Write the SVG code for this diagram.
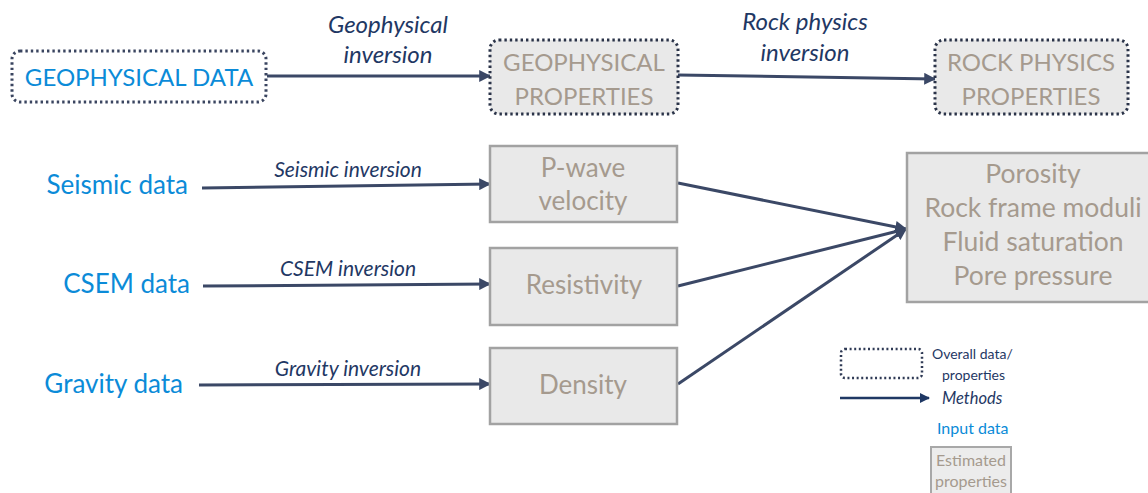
<svg xmlns="http://www.w3.org/2000/svg" width="1148" height="493" viewBox="0 0 1148 493">
  <defs>
    <style>
      text { font-family: Lato, "Open Sans", "Liberation Sans", sans-serif; }
      .dotted { fill: #e9e9e9; stroke: #2a3348; stroke-width: 3; stroke-dasharray: 2.4 3; }
      .dotted-open { fill: #ffffff; stroke: #3a4560; stroke-width: 3; stroke-dasharray: 2.4 3; }
      .prop { fill: #e9e9e9; stroke: #a2a2a2; stroke-width: 2.5; }
      .input { fill: #0b8bd8; }
      .est { fill: #a59a8e; }
      .method { fill: #1f3864; font-style: italic; }
      .conn { stroke: #3b4866; stroke-width: 3; fill: none; marker-end: url(#arrow); }
    </style>
    <marker id="arrow" viewBox="0 0 10 10" refX="9" refY="5" markerWidth="4" markerHeight="4" orient="auto" markerUnits="strokeWidth">
      <path d="M0,0 L10,5 L0,10 z" fill="#3b4866"/>
    </marker>
    <marker id="arrowLegend" viewBox="0 0 10 10" refX="9" refY="5" markerWidth="4" markerHeight="4" orient="auto" markerUnits="strokeWidth">
      <path d="M0,0 L10,5 L0,10 z" fill="#1f3864"/>
    </marker>
  </defs>

  <rect width="1148" height="493" fill="#ffffff"/>

  <!-- connectors -->
  <g id="connectors">
    <line class="conn" x1="267" y1="76" x2="490" y2="76"/>
    <line class="conn" x1="678" y1="75" x2="935" y2="79"/>
    <line class="conn" x1="202" y1="188" x2="490" y2="184"/>
    <line class="conn" x1="203" y1="286" x2="490" y2="284"/>
    <line class="conn" x1="199" y1="385" x2="490" y2="384"/>
    <line class="conn" x1="678" y1="183" x2="906" y2="229"/>
    <line class="conn" x1="678" y1="286" x2="906" y2="229"/>
    <line class="conn" x1="678" y1="384" x2="906" y2="229"/>
  </g>

  <!-- connector labels -->
  <g id="connector-labels" class="method" text-anchor="middle">
    <text x="388" y="33" font-size="24">Geophysical</text>
    <text x="388" y="63" font-size="24">inversion</text>
    <text x="805" y="30" font-size="24">Rock physics</text>
    <text x="805" y="61" font-size="24">inversion</text>
    <text x="348" y="177" font-size="21">Seismic inversion</text>
    <text x="348" y="276" font-size="21">CSEM inversion</text>
    <text x="348" y="376" font-size="21">Gravity inversion</text>
  </g>

  <!-- overall data / properties -->
  <g id="geophysical-data">
    <rect class="dotted-open" x="12" y="51" width="254" height="51" rx="8"/>
    <text class="input" x="139" y="86" font-size="24" text-anchor="middle">GEOPHYSICAL DATA</text>
  </g>
  <g id="geophysical-properties">
    <rect class="dotted" x="490" y="40" width="188" height="74" rx="9"/>
    <text class="est" x="584" y="71" font-size="24" text-anchor="middle">GEOPHYSICAL</text>
    <text class="est" x="584" y="105" font-size="24" text-anchor="middle">PROPERTIES</text>
  </g>
  <g id="rock-physics-properties">
    <rect class="dotted" x="935" y="40" width="193" height="74" rx="9"/>
    <text class="est" x="1031" y="71" font-size="24" text-anchor="middle">ROCK PHYSICS</text>
    <text class="est" x="1031" y="105" font-size="24" text-anchor="middle">PROPERTIES</text>
  </g>

  <!-- input data -->
  <g id="seismic-data">
    <text class="input" x="188" y="194" font-size="26" text-anchor="end">Seismic data</text>
  </g>
  <g id="csem-data">
    <text class="input" x="190" y="293" font-size="26" text-anchor="end">CSEM data</text>
  </g>
  <g id="gravity-data">
    <text class="input" x="183" y="393" font-size="26" text-anchor="end">Gravity data</text>
  </g>

  <!-- geophysical properties -->
  <g id="p-wave-velocity">
    <rect class="prop" x="490" y="146" width="187" height="76"/>
    <text class="est" x="583" y="177" font-size="26" text-anchor="middle">P-wave</text>
    <text class="est" x="583" y="210" font-size="26" text-anchor="middle">velocity</text>
  </g>
  <g id="resistivity">
    <rect class="prop" x="490" y="248" width="187" height="77"/>
    <text class="est" x="584" y="294" font-size="26" text-anchor="middle">Resistivity</text>
  </g>
  <g id="density">
    <rect class="prop" x="490" y="348" width="187" height="76"/>
    <text class="est" x="583" y="394" font-size="26" text-anchor="middle">Density</text>
  </g>

  <!-- rock physics properties -->
  <g id="rock-properties">
    <rect class="prop" x="907" y="153" width="245" height="149"/>
    <text class="est" x="1033" y="183" font-size="26.5" text-anchor="middle">Porosity</text>
    <text class="est" x="1033" y="217" font-size="26.5" text-anchor="middle">Rock frame moduli</text>
    <text class="est" x="1033" y="251" font-size="26.5" text-anchor="middle">Fluid saturation</text>
    <text class="est" x="1033" y="285" font-size="26.5" text-anchor="middle">Pore pressure</text>
  </g>

  <!-- legend -->
  <g id="legend">
    <rect x="841" y="349" width="81" height="29" rx="4" fill="none" stroke="#2f3a55" stroke-width="2.5" stroke-dasharray="2 2.6"/>
    <text x="932" y="359" font-size="14" fill="#1f3864">Overall data/</text>
    <text x="942" y="380" font-size="14" fill="#1f3864">properties</text>
    <line x1="840" y1="398" x2="929" y2="398" stroke="#1f3864" stroke-width="2.5" marker-end="url(#arrowLegend)"/>
    <text x="942" y="404" font-size="16.5" class="method">Methods</text>
    <text x="937" y="434" font-size="16" class="input">Input data</text>
    <rect x="931" y="447" width="80" height="50" fill="#ececec" stroke="#a8a8a8" stroke-width="2"/>
    <text x="971" y="466" font-size="16" class="est" text-anchor="middle">Estimated</text>
    <text x="971" y="487" font-size="16" class="est" text-anchor="middle">properties</text>
  </g>
</svg>
